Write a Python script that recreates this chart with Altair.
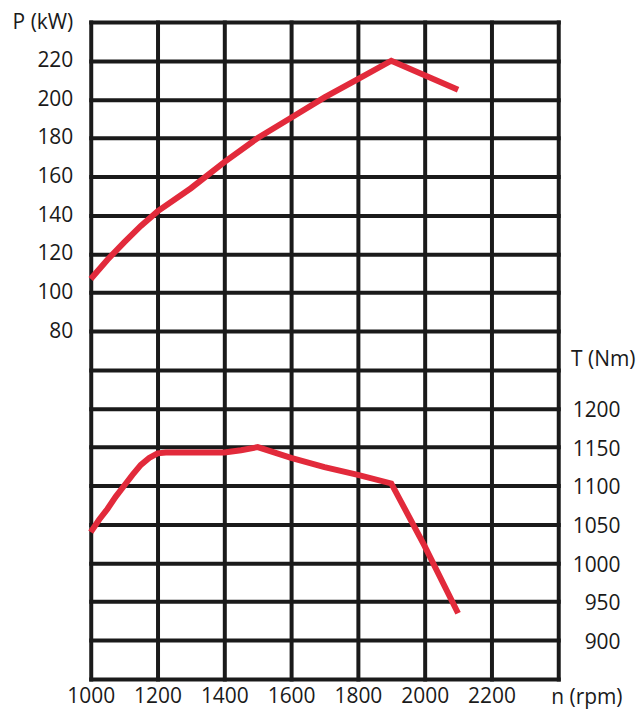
import altair as alt
import pandas as pd

# Power curve P (kW) vs engine speed n (rpm)
rpm_p = [1000, 1050, 1100, 1150, 1200, 1300, 1400, 1500, 1600, 1700, 1800, 1900, 2100]
power = [107, 117, 126, 134.5, 142, 154, 167.5, 180, 190.5, 201, 210.5, 220, 205]

# Torque curve T (Nm) vs engine speed n (rpm)
rpm_t = [1000, 1025, 1050, 1075, 1100, 1125, 1150, 1175, 1200, 1225, 1300, 1400, 1450, 1500,
         1600, 1700, 1800, 1900, 2000, 2100]
torque = [1040, 1056, 1070, 1086, 1100, 1114, 1127, 1136, 1142, 1143, 1143, 1143, 1146, 1150,
          1136, 1124, 1114, 1103, 1022, 935]

x_ticks = [1000, 1200, 1400, 1600, 1800, 2000, 2200, 2400]
p_ticks = list(range(-100, 241, 20))
t_ticks = [900, 950, 1000, 1050, 1100, 1150, 1200]

df_p = pd.DataFrame({"rpm": rpm_p, "P": power})
df_t = pd.DataFrame({"rpm": rpm_t, "T": torque})

RED = "#e22a3b"
INK = "#1a1a1a"
FONT = "Open Sans"

x_enc = alt.X(
    "rpm:Q",
    scale=alt.Scale(domain=[1000, 2400], nice=False, zero=False),
    axis=alt.Axis(
        values=x_ticks,
        format="d",
        labelExpr="datum.value <= 2200 ? datum.label : ''",
        grid=True,
        gridColor=INK,
        gridWidth=4,
        gridOpacity=1,
        gridCap="square",
        ticks=False,
        domain=False,
        labelFlush=False,
        labelPadding=18,
        labelBaseline="middle",
        title="n (rpm)",
        titleX=533,
        titleY=19,
        titleAlign="right",
        titleBaseline="middle",
    ),
)

p_line = alt.Chart(df_p).mark_line(color=RED, strokeWidth=6, strokeJoin="miter", strokeCap="butt").encode(
    x=x_enc,
    y=alt.Y(
        "P:Q",
        scale=alt.Scale(domain=[-100, 240], nice=False, zero=False),
        axis=alt.Axis(
            orient="left",
            values=p_ticks,
            labelExpr="datum.value == 240 ? 'P (kW)' : (datum.value >= 80 ? datum.label : '')",
            grid=True,
            gridColor=INK,
            gridWidth=4,
            gridOpacity=1,
            gridCap="square",
            ticks=False,
            domain=False,
            labelPadding=18,
            title=None,
        ),
    ),
)

t_line = alt.Chart(df_t).mark_line(color=RED, strokeWidth=6, strokeJoin="miter", strokeCap="butt").encode(
    x=x_enc,
    y=alt.Y(
        "T:Q",
        scale=alt.Scale(domain=[850, 1700], nice=False, zero=False),
        axis=alt.Axis(
            orient="right",
            values=t_ticks,
            format="d",
            grid=False,
            ticks=False,
            domain=False,
            labelAlign="right",
            labelPadding=62,
            labelOffset=2,
            title="T (Nm)",
            titleAngle=0,
            titleX=77,
            titleY=339,
            titleAlign="right",
            titleBaseline="middle",
        ),
    ),
)

chart = (
    alt.layer(p_line, t_line)
    .resolve_scale(y="independent")
    .properties(
        width=469,
        height=659,
        autosize=alt.AutoSizeParams(type="none"),
        padding={"left": 83, "top": 13, "right": 78, "bottom": 29},
        background="white",
    )
    .configure_view(stroke=None)
    .configure_axis(
        labelFont=FONT,
        labelFontSize=21,
        labelColor=INK,
        titleFont=FONT,
        titleFontSize=21,
        titleFontWeight="normal",
        titleColor=INK,
    )
)

chart.save("out.html", embed_options={"renderer": "svg", "actions": False})
